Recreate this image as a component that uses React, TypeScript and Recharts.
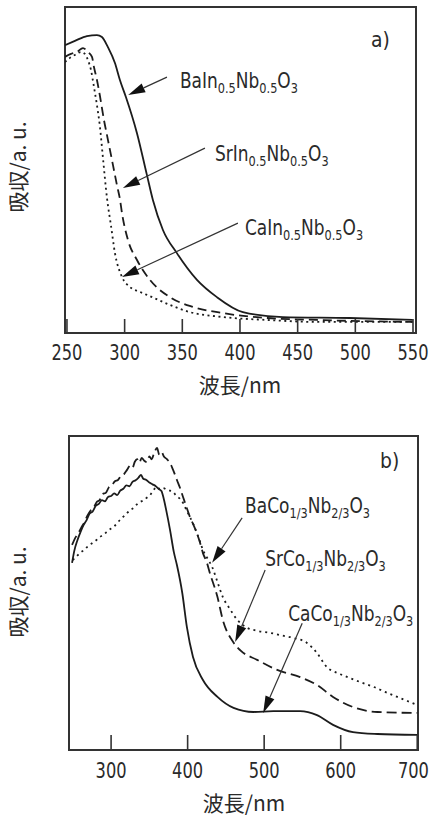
import React from 'react';
import { LineChart, Line, XAxis, YAxis, ReferenceLine, ReferenceArea, Customized } from 'recharts';

// ---------- Panel a) data (wavelength nm / absorbance a.u.) ----------
const aBaWl = [248.3, 256.9, 267.3, 276.0, 280.3, 285.5, 291.6, 295.9, 301.1, 310.7, 319.3, 324.5, 333.2, 345.3, 362.7, 380.0, 402.5, 437.2, 495.0, 549.8];
const aBaAbs = [88.3, 89.6, 91.1, 91.4, 90.8, 87.7, 82.8, 77.6, 72.4, 61.3, 48.5, 40.8, 31.6, 24.5, 16.3, 11.0, 6.4, 4.9, 4.6, 4.0];

const aSrWl = [248.3, 253.5, 258.7, 263.9, 268.2, 271.7, 273.4, 276.0, 278.6, 282.1, 284.7, 289.9, 293.3, 295.9, 297.7, 302.9, 310.7, 321.9, 339.3, 359.2, 385.2, 423.3, 466.6, 549.8];
const aSrAbs = [84.7, 85.6, 86.2, 87.4, 86.2, 84.7, 81.6, 77.6, 72.7, 65.3, 60.7, 51.5, 45.4, 41.1, 36.8, 28.5, 22.4, 16.3, 11.0, 8.0, 6.1, 4.6, 4.0, 3.4];

const aCaWl = [248.3, 252.6, 256.9, 262.1, 265.6, 268.2, 270.8, 273.4, 276.0, 278.6, 281.2, 284.7, 288.1, 291.6, 297.7, 304.6, 313.3, 321.9, 339.3, 356.6, 385.2, 423.3, 466.6, 549.8];
const aCaAbs = [83.1, 84.4, 85.3, 86.2, 85.6, 83.7, 80.7, 75.5, 69.9, 63.2, 53.7, 41.4, 33.1, 24.5, 17.2, 14.1, 12.6, 11.3, 8.6, 6.4, 4.9, 4.0, 3.4, 3.4];

const aTicks = [250, 300, 350, 400, 450, 500, 550];
const aDomain: [number, number] = [248.3, 552.6];

// ---------- Panel b) data ----------
const bBaWl = [250, 254, 259, 264, 268, 272, 277, 281, 285, 290, 294, 298, 303, 307, 312, 316, 321, 325, 330, 334, 338, 343, 347, 351, 355, 360, 364, 368, 373, 377, 381, 385, 390, 394, 398, 403, 408, 412, 416, 420, 426, 432, 439, 446, 455, 465, 478, 490, 508, 523, 538, 556, 569, 582, 596, 609, 626, 643, 658, 674, 687, 700];
const bBaAbs = [60.5, 61.4, 62.7, 63.6, 64.5, 65.3, 66.2, 66.9, 67.8, 68.5, 69.4, 70.2, 71.0, 72.0, 73.4, 74.3, 75.5, 76.4, 77.2, 78.3, 79.0, 79.6, 80.4, 81.2, 82.6, 83.8, 83.0, 83.4, 82.9, 82.6, 82.2, 81.0, 80.0, 78.7, 76.6, 74.2, 71.6, 69.1, 66.5, 63.7, 61.0, 58.3, 53.5, 48.7, 45.0, 41.4, 38.9, 38.0, 37.3, 36.5, 35.7, 34.1, 30.9, 26.4, 24.5, 23.2, 21.6, 20.1, 18.5, 16.9, 15.6, 14.3];

const bSrWl = [249, 253, 257, 261, 265, 269, 273, 277, 281, 285, 289, 293, 297, 301, 305, 309, 313, 317, 321, 325, 328, 331, 334, 337, 340, 343, 347, 350, 353, 356, 360, 363, 366, 369, 373, 377, 381, 386, 390, 394, 399, 403, 408, 412, 416, 420, 425, 429, 439, 446, 459.5, 468.6, 490.8, 517, 547, 569, 590, 616, 648, 700];
const bSrAbs = [65.3, 67.5, 69.0, 70.8, 72.5, 74.6, 76.2, 77.1, 78.9, 79.6, 81.5, 81.9, 83.6, 84.3, 85.6, 86.0, 87.4, 87.9, 89.3, 90.6, 89.9, 91.8, 92.6, 91.5, 93.0, 92.2, 91.7, 93.5, 92.6, 94.4, 96.2, 94.0, 94.8, 93.5, 92.6, 91.4, 89.2, 86.0, 83.5, 80.6, 77.0, 74.2, 71.5, 69.1, 66.2, 62.7, 59.8, 56.4, 48.7, 41.4, 34.4, 31.8, 28.7, 25.5, 23.2, 20.7, 16.9, 13.7, 12.1, 11.8];

const bCaWl = [249, 252, 256, 260, 264, 268, 272, 276, 280, 284, 288, 292, 296, 300, 304, 308, 312, 316, 320, 324, 328, 332, 336, 339, 342, 346, 350, 354, 358, 362, 366, 368, 372, 377, 382, 386, 393, 399, 407, 420, 439, 460, 486, 512, 547, 569, 590, 616, 648, 700];
const bCaAbs = [59.6, 63.5, 66.8, 69.4, 71.6, 73.2, 75.3, 76.0, 77.8, 78.4, 79.6, 79.2, 80.6, 80.9, 81.7, 81.2, 82.6, 83.2, 84.3, 84.0, 85.4, 85.9, 86.8, 87.6, 86.4, 86.0, 85.2, 84.6, 84.1, 83.2, 82.4, 80.8, 76.4, 70.1, 63.0, 58.9, 50.0, 39.2, 29.6, 22.3, 16.9, 13.4, 12.1, 12.4, 12.4, 11.1, 8.0, 5.7, 5.1, 4.8];

const bTicks = [300, 400, 500, 600, 700];
const bDomain: [number, number] = [245, 701];

// ---------- formula labels ----------
type Part = { t: string; sub?: boolean };
const fBaIn: Part[] = [{ t: 'BaIn' }, { t: '0.5', sub: true }, { t: 'Nb' }, { t: '0.5', sub: true }, { t: 'O' }, { t: '3', sub: true }];
const fSrIn: Part[] = [{ t: 'SrIn' }, { t: '0.5', sub: true }, { t: 'Nb' }, { t: '0.5', sub: true }, { t: 'O' }, { t: '3', sub: true }];
const fCaIn: Part[] = [{ t: 'CaIn' }, { t: '0.5', sub: true }, { t: 'Nb' }, { t: '0.5', sub: true }, { t: 'O' }, { t: '3', sub: true }];
const fBaCo: Part[] = [{ t: 'BaCo' }, { t: '1/3', sub: true }, { t: 'Nb' }, { t: '2/3', sub: true }, { t: 'O' }, { t: '3', sub: true }];
const fSrCo: Part[] = [{ t: 'SrCo' }, { t: '1/3', sub: true }, { t: 'Nb' }, { t: '2/3', sub: true }, { t: 'O' }, { t: '3', sub: true }];
const fCaCo: Part[] = [{ t: 'CaCo' }, { t: '1/3', sub: true }, { t: 'Nb' }, { t: '2/3', sub: true }, { t: 'O' }, { t: '3', sub: true }];

type Ann = { tail: [number, number]; tip: [number, number]; dx: number; dy: number; parts: Part[] };
const annA: Ann[] = [
  { tail: [336.7, 78.5], tip: [303.1, 73.0], dx: 13, dy: 3, parts: fBaIn },
  { tail: [369.6, 56.7], tip: [298.5, 44.5], dx: 10, dy: 5, parts: fSrIn },
  { tail: [398.2, 33.7], tip: [297.7, 17.2], dx: 7, dy: 4, parts: fCaIn },
];
const annB: Ann[] = [
  { tail: [471.2, 73.9], tip: [432.0, 59.6], dx: 3, dy: -12, parts: fBaCo },
  { tail: [501.3, 57.3], tip: [462.1, 34.4], dx: 0, dy: -12, parts: fSrCo },
  { tail: [549.7, 40.4], tip: [498.7, 11.8], dx: -14, dy: -10, parts: fCaCo },
];

const zip = (wl: number[], ab: number[]) => wl.map((w, i) => ({ wl: w, abs: ab[i] }));

const NARROW = "'DejaVu Sans Condensed', 'DejaVu Sans', sans-serif";
const SANS = "'DejaVu Sans Condensed', 'DejaVu Sans', sans-serif";
const CJK = "'Noto Sans CJK JP', 'Noto Sans CJK SC', sans-serif";
const INK = '#1c1c1c';
const FRAME = '#333';
const TXT = '#2a2a2a';

function Formula({ x, cy, parts }: { x: number; cy: number; parts: Part[] }) {
  let cur = 0;
  return (
    <g transform={`translate(${x},0) scale(0.9,1) translate(${-x},0)`}>
      <text x={x} y={cy + 7.5} fontSize={21} fontFamily={NARROW} fill={TXT}>
        {parts.map((p, i) => {
          const target = p.sub ? 5 : 0;
          const d = target - cur;
          cur = target;
          return (
            <tspan key={i} dy={d} fontSize={p.sub ? 14 : 21}>
              {p.t}
            </tspan>
          );
        })}
      </text>
    </g>
  );
}

const arrowShape = (ann: Ann) => (p: any) => {
  const { x1, y1, x2, y2 } = p;
  if ([x1, y1, x2, y2].some((v) => typeof v !== 'number' || isNaN(v))) return <g />;
  const dx = x2 - x1;
  const dy = y2 - y1;
  const len = Math.hypot(dx, dy) || 1;
  const ux = dx / len;
  const uy = dy / len;
  const hl = 17;
  const hw = 4.8;
  const bx = x2 - ux * hl;
  const by = y2 - uy * hl;
  const pts = `${x2},${y2} ${bx - uy * hw},${by + ux * hw} ${bx + uy * hw},${by - ux * hw}`;
  return (
    <g>
      <line x1={x1} y1={y1} x2={bx} y2={by} stroke="#333" strokeWidth={1.2} />
      <polygon points={pts} fill="#111" />
      <Formula x={x1 + ann.dx} cy={y1 + ann.dy} parts={ann.parts} />
    </g>
  );
};

function Tick(props: any) {
  const { x, y, payload } = props;
  const label = String(payload.value);
  const half = label.length * 5.2;
  const cx = Math.min(x, 429 - half);
  return (
    <g transform={`translate(${cx},0) scale(0.86,1) translate(${-cx},0)`}>
      <text x={cx} y={y} dy="0.71em" textAnchor="middle" fontSize={21} fontFamily={NARROW} fill={TXT}>
        {label}
      </text>
    </g>
  );
}

function StaticText({ yTitleY, xTitleY, xTitleX, tag, tagX, tagY }: any) {
  return (
    <g>
      <text
        x={17}
        y={yTitleY}
        transform={`rotate(-90, 17, ${yTitleY})`}
        textAnchor="middle"
        dominantBaseline="central"
        fontSize={21}
        fontFamily={CJK}
        fill={TXT}
      >
        吸収/a. u.
      </text>
      <text x={xTitleX} y={xTitleY} textAnchor="middle" fontSize={21} fontFamily={CJK} fill={TXT}>
        波長/nm
      </text>
      <g transform={`translate(${tagX},0) scale(0.95,1) translate(${-tagX},0)`}>
        <text x={tagX} y={tagY} fontSize={22} fontFamily={SANS} fill={TXT}>
          {tag}
        </text>
      </g>
    </g>
  );
}

export default function App() {
  return (
    <div style={{ position: 'absolute', left: 0, top: 0, width: 430, height: 817, background: '#fff', overflow: 'hidden' }}>
      <div style={{ position: 'absolute', left: 0, top: 0 }}>
        <LineChart width={430} height={400} margin={{ top: 7, right: 14, bottom: 37, left: 65 }}>
          <XAxis
            dataKey="wl"
            type="number"
            domain={aDomain}
            allowDataOverflow
            ticks={aTicks}
            interval={0}
            height={30}
            tickSize={-14}
            tickMargin={26}
            tick={<Tick />}
            tickLine={{ stroke: FRAME, strokeWidth: 1.6 }}
            axisLine={{ stroke: FRAME, strokeWidth: 2 }}
          />
          <YAxis hide type="number" domain={[0, 100]} allowDataOverflow />
          <ReferenceArea x1={aDomain[0]} x2={aDomain[1]} y1={0} y2={100} fill="none" stroke={FRAME} strokeWidth={2} ifOverflow="visible" />
          <Line data={zip(aBaWl, aBaAbs)} dataKey="abs" type="monotone" stroke={INK} strokeWidth={1.8} dot={false} isAnimationActive={false} />
          <Line data={zip(aSrWl, aSrAbs)} dataKey="abs" type="monotone" stroke={INK} strokeWidth={1.8} strokeDasharray="9 5" dot={false} isAnimationActive={false} />
          <Line data={zip(aCaWl, aCaAbs)} dataKey="abs" type="monotone" stroke={INK} strokeWidth={1.8} strokeDasharray="2 3.5" dot={false} isAnimationActive={false} />
          {annA.map((a, i) => (
            <ReferenceLine
              key={i}
              segment={[{ x: a.tail[0], y: a.tail[1] }, { x: a.tip[0], y: a.tip[1] }]}
              ifOverflow="visible"
              shape={arrowShape(a)}
            />
          ))}
          <Customized component={<StaticText yTitleY={167} xTitleX={240} xTitleY={393} tag="a)" tagX={371} tagY={47} />} />
        </LineChart>
      </div>
      <div style={{ position: 'absolute', left: 0, top: 420 }}>
        <LineChart width={430} height={397} margin={{ top: 16, right: 12, bottom: 37, left: 69 }}>
          <XAxis
            dataKey="wl"
            type="number"
            domain={bDomain}
            allowDataOverflow
            ticks={bTicks}
            interval={0}
            height={30}
            tickSize={-15}
            tickMargin={28}
            tick={<Tick />}
            tickLine={{ stroke: FRAME, strokeWidth: 1.6 }}
            axisLine={{ stroke: FRAME, strokeWidth: 2 }}
          />
          <YAxis hide type="number" domain={[0, 100]} allowDataOverflow />
          <ReferenceArea x1={bDomain[0]} x2={bDomain[1]} y1={0} y2={100} fill="none" stroke={FRAME} strokeWidth={2} ifOverflow="visible" />
          <Line data={zip(bBaWl, bBaAbs)} dataKey="abs" type="monotone" stroke={INK} strokeWidth={1.8} strokeDasharray="2 4" dot={false} isAnimationActive={false} />
          <Line data={zip(bSrWl, bSrAbs)} dataKey="abs" type="monotone" stroke={INK} strokeWidth={1.8} strokeDasharray="10 5" dot={false} isAnimationActive={false} />
          <Line data={zip(bCaWl, bCaAbs)} dataKey="abs" type="monotone" stroke={INK} strokeWidth={1.8} dot={false} isAnimationActive={false} />
          {annB.map((a, i) => (
            <ReferenceLine
              key={i}
              segment={[{ x: a.tail[0], y: a.tail[1] }, { x: a.tip[0], y: a.tip[1] }]}
              ifOverflow="visible"
              shape={arrowShape(a)}
            />
          ))}
          <Customized component={<StaticText yTitleY={172} xTitleX={244} xTitleY={391} tag="b)" tagX={380} tagY={48} />} />
        </LineChart>
      </div>
    </div>
  );
}
